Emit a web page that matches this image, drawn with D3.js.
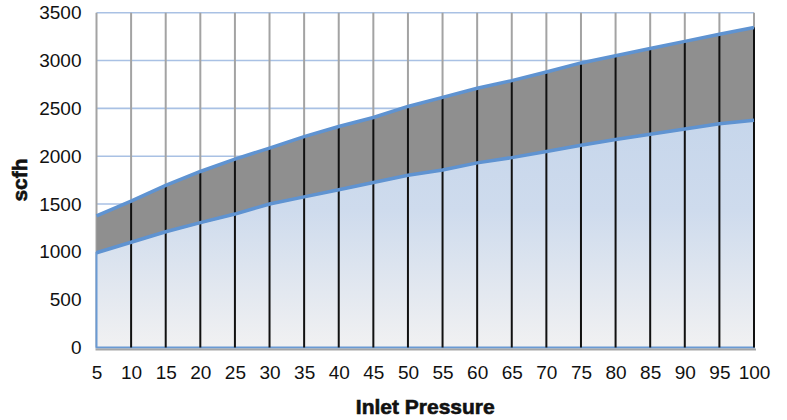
<!DOCTYPE html>
<html>
<head>
<meta charset="utf-8">
<script src="https://cdn.jsdelivr.net/npm/d3@7"></script>
<style>
  body { margin: 0; background: #fff; }
  #canvas-1 { width: 787px; height: 420px; }
</style>
</head>
<body>
<div id="canvas-1"></div>
<script>
/* values */
var pressure = [5,10,15,20,25,30,35,40,45,50,55,60,65,70,75,80,85,90,95,100];
var lowFlow  = [990,1100,1210,1305,1395,1500,1575,1650,1725,1800,1855,1930,1985,2050,2115,2175,2230,2285,2340,2375];
var highFlow = [1375,1530,1695,1840,1970,2085,2205,2310,2405,2520,2615,2710,2790,2880,2975,3050,3125,3200,3275,3345];
var yTicks = [0,500,1000,1500,2000,2500,3000,3500];

var canvasWidth = document.getElementById('canvas-1').clientWidth,
    canvasHeight = document.getElementById('canvas-1').clientHeight;

var margin = {t:12.7,r:33,b:72.5,l:96.5};
var labelFont = "'Liberation Sans', Arial, sans-serif";

var svg = d3.select('#canvas-1')
    .append("svg")
    .attr("width", canvasWidth)
    .attr("height", canvasHeight);

var x = d3.scaleLinear().domain([5,100]).range([margin.l, canvasWidth - margin.r]);
var y = d3.scaleLinear().domain([0,3500]).range([canvasHeight - margin.b, margin.t]);

var rows = pressure.map(function(p,i){ return {p:p, lo:lowFlow[i], hi:highFlow[i]}; });

// gradient for the blue area
var grad = svg.append("defs").append("linearGradient")
    .attr("id","blueFade")
    .attr("gradientUnits","userSpaceOnUse")
    .attr("x1",0).attr("x2",0)
    .attr("y1",y(2400)).attr("y2",y(0));
grad.append("stop").attr("offset","0").attr("stop-color","#c6d6eb");
grad.append("stop").attr("offset","0.4").attr("stop-color","#cedbed");
grad.append("stop").attr("offset","1").attr("stop-color","#f1f1f2");

// horizontal grid, light blue
svg.append("g")
    .selectAll("line")
    .data(yTicks)
    .enter().append("line")
    .attr("x1", x(5)).attr("x2", x(100))
    .attr("y1", function(d){ return y(d); })
    .attr("y2", function(d){ return y(d); })
    .style("stroke","#a9c1e4")
    .style("stroke-width",1.6);

// vertical grid, gray
svg.append("g")
    .selectAll("line")
    .data(pressure)
    .enter().append("line")
    .attr("x1", function(d){ return x(d); })
    .attr("x2", function(d){ return x(d); })
    .attr("y1", y(3500)).attr("y2", y(0))
    .style("stroke","#a3a3a3")
    .style("stroke-width",2);

// gray band between the two curves
svg.append("path")
    .datum(rows)
    .attr("d", d3.area()
        .x(function(d){ return x(d.p); })
        .y0(function(d){ return y(d.lo); })
        .y1(function(d){ return y(d.hi); }))
    .style("fill","#8f8f8f");

// blue area under the low curve
svg.append("path")
    .datum(rows)
    .attr("d", d3.area()
        .x(function(d){ return x(d.p); })
        .y0(y(0))
        .y1(function(d){ return y(d.lo); }))
    .style("fill","url(#blueFade)")
    .style("stroke","#6a9ad3")
    .style("stroke-width",2);

// black drop lines inside the filled part
svg.append("g")
    .selectAll("line")
    .data(rows.slice(1))
    .enter().append("line")
    .attr("x1", function(d){ return x(d.p); })
    .attr("x2", function(d){ return x(d.p); })
    .attr("y1", function(d){ return y(d.hi); })
    .attr("y2", y(0))
    .style("stroke","#111")
    .style("stroke-width",2);

var lineHi = d3.line().x(function(d){ return x(d.p); }).y(function(d){ return y(d.hi); });
var lineLo = d3.line().x(function(d){ return x(d.p); }).y(function(d){ return y(d.lo); });

svg.append("path").datum(rows).attr("d", lineHi)
    .style("fill","none").style("stroke","#5f93d1").style("stroke-width",3.5);
svg.append("path").datum(rows).attr("d", lineLo)
    .style("fill","none").style("stroke","#5f93d1").style("stroke-width",3.5);

// bottom axis line
svg.append("line")
    .attr("x1", x(5) - 1).attr("x2", x(100) + 2)
    .attr("y1", y(0) + 2).attr("y2", y(0) + 2)
    .style("stroke","#a6a6a6")
    .style("stroke-width",2);

// axes, only the labels are kept
var xAxis = svg.append("g")
    .attr("transform","translate(0,"+ (y(0) + 18) +")")
    .call(d3.axisBottom(x).tickValues(pressure).tickSize(0).tickPadding(0));
var yAxis = svg.append("g")
    .attr("transform","translate("+ (x(5) - 15) +",0)")
    .call(d3.axisLeft(y).tickValues(yTicks).tickFormat(d3.format("d")).tickSize(0).tickPadding(0));

[xAxis, yAxis].forEach(function(a){
    a.select(".domain").remove();
    a.selectAll("text")
        .style("font-family", labelFont)
        .style("font-size","19px")
        .style("fill","#111");
});

// titles, a thin stroke makes them look heavier like the original
svg.append("text")
    .attr("x", (x(5) + x(100)) / 2)
    .attr("y", 414)
    .attr("text-anchor","middle")
    .style("font-family", labelFont)
    .style("font-weight","bold")
    .style("font-size","21px")
    .style("fill","#111")
    .style("stroke","#111")
    .style("stroke-width",0.6)
    .text("Inlet Pressure");

svg.append("text")
    .attr("transform","translate(27,180) rotate(-90)")
    .attr("text-anchor","middle")
    .style("font-family", labelFont)
    .style("font-weight","bold")
    .style("font-size","21px")
    .style("fill","#111")
    .style("stroke","#111")
    .style("stroke-width",0.6)
    .text("scfh");
</script>
</body>
</html>
